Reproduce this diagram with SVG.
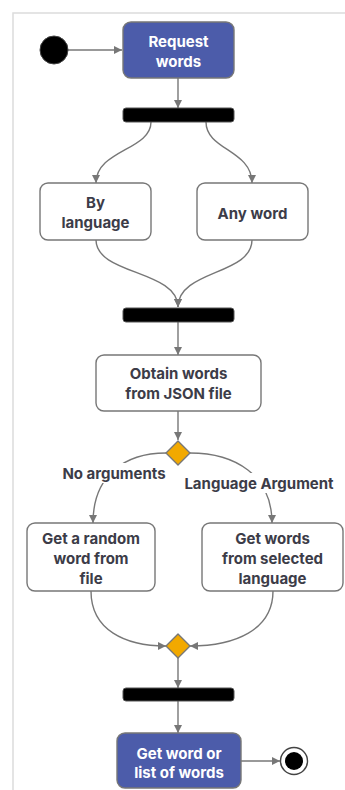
<svg xmlns="http://www.w3.org/2000/svg" width="345" height="790" viewBox="0 0 345 790">
  <style>
    .frame { stroke: #dcdcdc; stroke-width: 1.5; fill: none; }
    .action rect { fill: #ffffff; stroke: #777777; stroke-width: 1.4; }
    .action text { fill: #3c3c48; }
    .key rect { fill: #4c5caa; stroke: #777777; stroke-width: 1.4; }
    .key text { fill: #ffffff; }
    text { font-family: Inter, Roboto, "Liberation Sans", sans-serif; font-size: 15px; font-weight: bold; text-anchor: middle; dominant-baseline: central; }
    .bar { fill: #000000; stroke: #555555; stroke-width: 1; }
    .decision { fill: #f2a900; stroke: #777777; stroke-width: 1.4; }
    .edge { fill: none; stroke: #777777; stroke-width: 1.4; marker-end: url(#arrow); }
    .guard rect { fill: #ffffff; }
    .guard text { fill: #3c3c48; }
  </style>
  <defs>
    <marker id="arrow" viewBox="0 0 10 10" refX="10" refY="5" markerWidth="8" markerHeight="8" markerUnits="userSpaceOnUse" orient="auto">
      <path d="M0,0 L10,5 L0,10 z" fill="#777777"/>
    </marker>
  </defs>

  <rect width="345" height="790" fill="#ffffff"/>
  <path class="frame" d="M13,790 V13 H345"/>

  <g id="connectors">
    <path class="edge" d="M68,50 H122"/>
    <path class="edge" d="M178,78 V108"/>
    <path class="edge" d="M151,122 C151,150 96,150 96,183"/>
    <path class="edge" d="M206,122 C206,150 252,150 252,183"/>
    <path class="edge" d="M96,240 C96,275 178,270 178,307"/>
    <path class="edge" d="M252,240 C252,275 178,270 178,307"/>
    <path class="edge" d="M178,322 V355"/>
    <path class="edge" d="M178,411 V440"/>
    <path class="edge" d="M166,453 C125,453 93,475 93,523"/>
    <path class="edge" d="M190,453 C235,453 272,475 272,523"/>
    <path class="edge" d="M91,591 C91,630 125,646 166,646"/>
    <path class="edge" d="M273,591 C273,630 235,646 190,646"/>
    <path class="edge" d="M178,658 V688"/>
    <path class="edge" d="M178,701 V733"/>
    <path class="edge" d="M241,761 H280"/>
  </g>

  <g id="guard-no-arguments" class="guard">
    <rect x="58" y="463" width="112" height="20"/>
    <text x="114" y="473">No arguments</text>
  </g>
  <g id="guard-language-argument" class="guard">
    <rect x="180" y="473" width="158" height="20"/>
    <text x="259" y="483">Language Argument</text>
  </g>

  <g id="start">
    <circle cx="54" cy="50" r="14" fill="#000000" stroke="#444444" stroke-width="1"/>
  </g>

  <g id="request-words" class="key">
    <rect x="123" y="22" width="111" height="56" rx="8"/>
    <text x="178.5" y="41">Request</text>
    <text x="178.5" y="61">words</text>
  </g>

  <g id="fork-1"><rect class="bar" x="123" y="108" width="111" height="14" rx="3"/></g>

  <g id="by-language" class="action">
    <rect x="40" y="183" width="111" height="57" rx="8"/>
    <text x="95.5" y="202">By</text>
    <text x="95.5" y="222">language</text>
  </g>

  <g id="any-word" class="action">
    <rect x="197" y="183" width="111" height="57" rx="8"/>
    <text x="252.5" y="213">Any word</text>
  </g>

  <g id="join-1"><rect class="bar" x="123" y="308" width="111" height="14" rx="3"/></g>

  <g id="obtain-words" class="action">
    <rect x="96" y="355" width="165" height="56" rx="8"/>
    <text x="178.5" y="373">Obtain words</text>
    <text x="178.5" y="393">from JSON file</text>
  </g>

  <g id="decision-1"><path class="decision" d="M178,441 L190,453 L178,465 L166,453 Z" stroke-linejoin="round"/></g>

  <g id="random-word" class="action">
    <rect x="27" y="523" width="128" height="68" rx="8"/>
    <text x="91" y="538">Get a random</text>
    <text x="91" y="558">word from</text>
    <text x="91" y="578">file</text>
  </g>

  <g id="selected-language" class="action">
    <rect x="202" y="523" width="141" height="68" rx="8"/>
    <text x="272.5" y="538">Get words</text>
    <text x="272.5" y="558">from selected</text>
    <text x="272.5" y="578">language</text>
  </g>

  <g id="merge-1"><path class="decision" d="M178,634 L190,646 L178,658 L166,646 Z" stroke-linejoin="round"/></g>

  <g id="join-2"><rect class="bar" x="123" y="688" width="111" height="13" rx="3"/></g>

  <g id="get-word" class="key">
    <rect x="117" y="733" width="124" height="55" rx="8"/>
    <text x="179" y="753">Get word or</text>
    <text x="179" y="772">list of words</text>
  </g>

  <g id="end">
    <circle cx="294" cy="761" r="13.5" fill="#ffffff" stroke="#444444" stroke-width="1.4"/>
    <circle cx="294" cy="761" r="9" fill="#000000"/>
  </g>
</svg>
